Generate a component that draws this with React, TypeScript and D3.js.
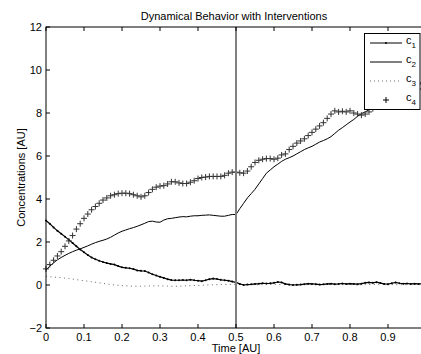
import React, { useEffect, useRef } from "react";
import * as d3 from "d3";

// sampling grids (time in AU)
const time = d3.range(101).map((i) => i / 100);
const timeCoarse = d3.range(51).map((i) => i / 50);

const c1Values = [
  3.0, 2.85, 2.68, 2.52, 2.38, 2.25, 2.1, 1.95, 1.8, 1.65,
  1.52, 1.4, 1.28, 1.2, 1.13, 1.07, 1.02, 0.98, 0.95, 0.88,
  0.82, 0.8, 0.78, 0.74, 0.68, 0.66, 0.65, 0.58, 0.5, 0.44,
  0.38, 0.33, 0.27, 0.23, 0.22, 0.22, 0.23, 0.22, 0.25, 0.22,
  0.2, 0.18, 0.22, 0.27, 0.3, 0.28, 0.24, 0.22, 0.2, 0.16,
  0.12, 0.05, 0.0, 0.02, 0.03, 0.05, 0.06, 0.08, 0.07, 0.08,
  0.1, 0.14, 0.12, 0.05, 0.02, 0.0, 0.01, 0.02, 0.04, 0.06,
  0.05, 0.04, 0.02, 0.03, 0.05, 0.06, 0.04, 0.05, 0.07, 0.05,
  0.06, 0.05, 0.04, 0.06, 0.1, 0.12, 0.1, 0.13, 0.09, 0.05,
  0.04, 0.08, 0.12, 0.08, 0.06, 0.07, 0.05, 0.06, 0.05, 0.06,
  0.05,
];

const c2Values = [
  0.7, 0.88, 1.03, 1.17, 1.28, 1.38, 1.47, 1.55, 1.62, 1.68,
  1.75, 1.82, 1.9, 1.97, 2.03, 2.08, 2.14, 2.22, 2.32, 2.42,
  2.5, 2.56, 2.62, 2.67, 2.73, 2.8, 2.87, 2.95, 2.97, 2.93,
  2.92, 3.02, 3.08, 3.1, 3.13, 3.16, 3.18, 3.17, 3.2, 3.22,
  3.22, 3.24, 3.25, 3.26, 3.24, 3.22, 3.2, 3.2, 3.24, 3.28,
  3.28, 3.55, 3.8, 4.05, 4.25, 4.45, 4.7, 4.95, 5.2, 5.35,
  5.5, 5.62, 5.75, 5.85, 5.92, 6.0, 6.1, 6.2, 6.3, 6.38,
  6.45, 6.55, 6.65, 6.72, 6.8, 6.9, 7.05, 7.2, 7.32, 7.45,
  7.58, 7.7, 7.85, 7.97, 8.05, 8.15, 8.22, 8.3, 8.38, 8.45,
  8.52, 8.6, 8.68, 8.75, 8.82, 8.9, 8.96, 9.02, 9.08, 9.14,
  9.2,
];

const c3Values = [
  0.4, 0.37, 0.34, 0.3, 0.25, 0.2, 0.15, 0.1, 0.05, 0.0,
  -0.03, -0.05, -0.06, -0.05, -0.04, -0.04, -0.05, -0.06, -0.05, -0.03,
  -0.02, 0.0, 0.01, 0.02, 0.03, 0.03, 0.02, 0.02, 0.01, 0.02,
  0.03, 0.02, 0.01, 0.01, 0.02, 0.02, 0.01, 0.02, 0.03, 0.02,
  0.02, 0.01, 0.02, 0.02, 0.03, 0.02, 0.02, 0.01, 0.02, 0.02,
  0.02,
];

const c4Values = [
  0.75, 0.95, 1.15, 1.35, 1.55, 1.8, 2.05, 2.3, 2.6, 2.85,
  3.1, 3.3, 3.5, 3.65, 3.8, 3.95, 4.05, 4.15, 4.2, 4.25,
  4.27, 4.27, 4.25, 4.2, 4.15, 4.1, 4.15, 4.3, 4.45, 4.55,
  4.6, 4.62, 4.7, 4.8, 4.8, 4.75, 4.72, 4.72, 4.78, 4.85,
  4.95, 5.0, 5.02, 5.05, 5.05, 5.05, 5.05, 5.1, 5.2, 5.25,
  5.25, 5.22, 5.2, 5.3, 5.5, 5.7, 5.8, 5.85, 5.88, 5.88,
  5.85, 5.9, 6.05, 6.1, 6.3, 6.45, 6.6, 6.7, 6.8, 6.95,
  7.1, 7.25, 7.4, 7.55, 7.75, 7.95, 8.1, 8.05, 8.08, 8.05,
  8.1, 8.0, 7.95, 7.9, 7.95, 8.05, 8.2, 8.35, 8.5, 8.6,
  8.7, 8.8, 8.85, 8.9, 9.0, 9.1, 9.2, 9.3, 9.35, 9.4,
  9.5,
];

const xTicks = [0, 0.1, 0.2, 0.3, 0.4, 0.5, 0.6, 0.7, 0.8, 0.9];
const yTicks = [-2, 0, 2, 4, 6, 8, 10, 12];
const interventionTime = 0.5;
const legendLabels = ["1", "2", "3", "4"];

const App = () => {
  const ref = useRef<SVGSVGElement>(null);

  useEffect(() => {
    const width = 421;
    const height = 354;
    const margin = { top: 27, left: 46, bottom: 26 };
    const plotRight = 426; // x = 1 falls just outside the picture
    const font = "Liberation Sans, Arial, Helvetica, sans-serif";

    const svg = d3.select(ref.current);
    svg.selectAll("*").remove();
    svg.attr("width", width).attr("height", height);

    const x = d3.scaleLinear().domain([0, 1]).range([margin.left, plotRight]);
    const y = d3
      .scaleLinear()
      .domain([-2, 12])
      .range([height - margin.bottom, margin.top]);

    svg.append("rect").attr("width", width).attr("height", height).attr("fill", "white");

    // title
    svg
      .append("text")
      .attr("x", (margin.left + plotRight) / 2 - 2)
      .attr("y", 20)
      .attr("text-anchor", "middle")
      .attr("font-family", font)
      .attr("font-size", 11)
      .text("Dynamical Behavior with Interventions");

    const plot = svg.append("g");

    const line = d3
      .line<[number, number]>()
      .x((d) => x(d[0]))
      .y((d) => y(d[1]));

    // c3 dotted
    plot
      .append("path")
      .attr("d", line(timeCoarse.map((t, i) => [t, c3Values[i]])))
      .attr("fill", "none")
      .attr("stroke", "#666")
      .attr("stroke-width", 1)
      .attr("stroke-dasharray", "1,3.5");

    // c2 solid
    plot
      .append("path")
      .attr("d", line(time.map((t, i) => [t, c2Values[i]])))
      .attr("fill", "none")
      .attr("stroke", "#000")
      .attr("stroke-width", 1);

    // c1 line with dots
    const c1Data: [number, number][] = time.map((t, i) => [t, c1Values[i]]);
    plot
      .append("path")
      .attr("d", line(c1Data))
      .attr("fill", "none")
      .attr("stroke", "#000")
      .attr("stroke-width", 1.2);
    plot
      .selectAll("circle.c1")
      .data(c1Data)
      .enter()
      .append("circle")
      .attr("cx", (d) => x(d[0]))
      .attr("cy", (d) => y(d[1]))
      .attr("r", 1)
      .attr("fill", "#000");

    // c4 plus markers
    const plus = (cx: number, cy: number, s: number) =>
      `M${cx - s},${cy}H${cx + s}M${cx},${cy - s}V${cy + s}`;
    plot
      .selectAll("path.c4")
      .data(time.map((t, i) => [t, c4Values[i]]))
      .enter()
      .append("path")
      .attr("d", (d) => plus(x(d[0]), y(d[1]), 3))
      .attr("stroke", "#333")
      .attr("stroke-width", 1);

    // intervention line
    svg
      .append("line")
      .attr("x1", x(interventionTime))
      .attr("x2", x(interventionTime))
      .attr("y1", y(12))
      .attr("y2", y(-2))
      .attr("stroke", "#808080")
      .attr("stroke-width", 2);

    // axes box and ticks
    const axes = svg.append("g").attr("stroke", "#000").attr("stroke-width", 1);
    axes
      .append("rect")
      .attr("x", x(0))
      .attr("y", y(12))
      .attr("width", x(1) - x(0))
      .attr("height", y(-2) - y(12))
      .attr("fill", "none");
    xTicks.forEach((t) => {
      axes.append("line").attr("x1", x(t)).attr("x2", x(t)).attr("y1", y(-2)).attr("y2", y(-2) - 4);
      axes.append("line").attr("x1", x(t)).attr("x2", x(t)).attr("y1", y(12)).attr("y2", y(12) + 4);
    });
    yTicks.forEach((v) => {
      axes.append("line").attr("x1", x(0)).attr("x2", x(0) + 4).attr("y1", y(v)).attr("y2", y(v));
    });

    const labels = svg.append("g").attr("font-family", font).attr("font-size", 11).attr("fill", "#000");
    xTicks.forEach((t) => {
      labels
        .append("text")
        .attr("x", x(t))
        .attr("y", y(-2) + 13)
        .attr("text-anchor", "middle")
        .text(String(t));
    });
    yTicks.forEach((v) => {
      labels
        .append("text")
        .attr("x", x(0) - 4)
        .attr("y", y(v) + 4)
        .attr("text-anchor", "end")
        .text(v < 0 ? `\u2212${-v}` : String(v));
    });

    labels
      .append("text")
      .attr("x", x(0.5))
      .attr("y", 352)
      .attr("text-anchor", "middle")
      .text("Time [AU]");
    labels
      .append("text")
      .attr("transform", `translate(25,${(y(12) + y(-2)) / 2}) rotate(-90)`)
      .attr("text-anchor", "middle")
      .text("Concentrations [AU]");

    // legend
    const legend = svg.append("g").attr("transform", "translate(364,33)");
    legend
      .append("rect")
      .attr("x", 0.5)
      .attr("y", 0.5)
      .attr("width", 55.5)
      .attr("height", 76)
      .attr("fill", "white")
      .attr("stroke", "#000");
    legendLabels.forEach((lab, i) => {
      const ly = 10 + i * 19;
      const g = legend.append("g");
      if (i === 0) {
        g.append("line").attr("x1", 6).attr("x2", 38).attr("y1", ly).attr("y2", ly).attr("stroke", "#000");
        g.append("circle").attr("cx", 22).attr("cy", ly).attr("r", 1).attr("fill", "#000");
      } else if (i === 1) {
        g.append("line").attr("x1", 6).attr("x2", 38).attr("y1", ly).attr("y2", ly).attr("stroke", "#000");
      } else if (i === 2) {
        g.append("line")
          .attr("x1", 6)
          .attr("x2", 38)
          .attr("y1", ly)
          .attr("y2", ly)
          .attr("stroke", "#666")
          .attr("stroke-dasharray", "1,3");
      } else {
        g.append("path").attr("d", plus(22, ly, 3)).attr("stroke", "#000");
      }
      const txt = g
        .append("text")
        .attr("x", 42)
        .attr("y", ly + 1)
        .attr("font-family", font)
        .attr("font-size", 11);
      txt.append("tspan").text("c");
      txt.append("tspan").attr("dy", 4).attr("font-size", 8).text(lab);
    });
  }, []);

  return <svg ref={ref} style={{ position: "fixed", left: 0, top: 0 }}></svg>;
};

export default App;
